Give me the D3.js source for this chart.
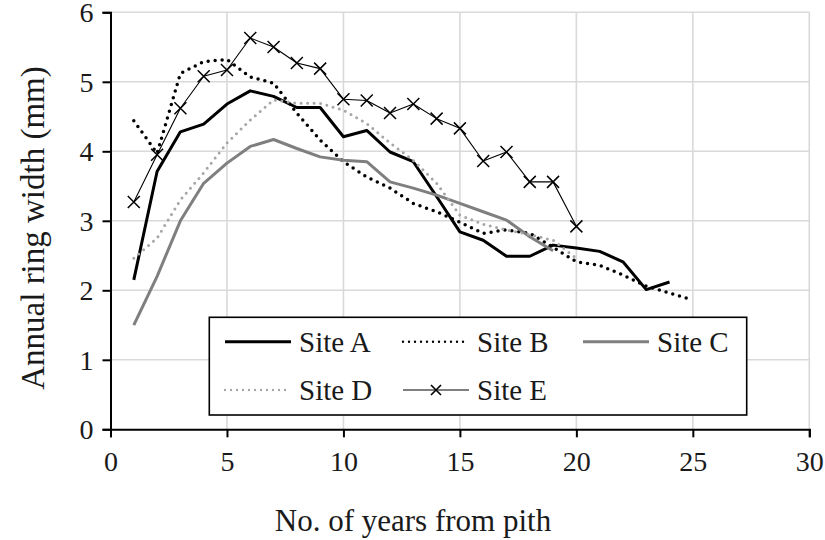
<!DOCTYPE html>
<html>
<head>
<meta charset="utf-8">
<script src="https://cdn.jsdelivr.net/npm/d3@7"></script>
<style>
  body { margin: 0; background: #fff; }
  svg text { font-family: "Liberation Serif", "DejaVu Serif", serif; fill: #1a1a1a; }
</style>
</head>
<body>
<svg id="chart" width="825" height="540"></svg>
<script>
// ring width (mm) by years from pith
const years = d3.range(1, 26);
const siteA = [2.15, 3.71, 4.28, 4.39, 4.68, 4.87, 4.79, 4.63, 4.63, 4.21, 4.30, 3.99, 3.85, 3.35, 2.84, 2.72, 2.49, 2.49, 2.65, 2.61, 2.56, 2.41, 2.01, 2.12];
const siteB = [4.44, 3.97, 5.12, 5.29, 5.32, 5.07, 4.98, 4.55, 4.16, 3.85, 3.63, 3.47, 3.25, 3.13, 2.98, 2.82, 2.87, 2.82, 2.62, 2.41, 2.36, 2.22, 2.06, 1.96, 1.86];
const siteC = [1.50, 2.20, 3.00, 3.54, 3.83, 4.07, 4.17, 4.04, 3.92, 3.87, 3.85, 3.56, 3.47, 3.37, 3.25, 3.13, 3.01, 2.77, 2.57];
const siteD = [2.46, 2.75, 3.30, 3.69, 4.12, 4.45, 4.74, 4.69, 4.69, 4.59, 4.40, 4.12, 3.87, 3.54, 3.08, 2.95, 2.87, 2.80, 2.72, 2.46];
const siteE = [3.27, 3.95, 4.62, 5.08, 5.17, 5.63, 5.50, 5.27, 5.19, 4.75, 4.73, 4.55, 4.68, 4.47, 4.33, 3.86, 3.99, 3.56, 3.56, 2.92];
const xTicks = [0, 5, 10, 15, 20, 25, 30];
const yTicks = [0, 1, 2, 3, 4, 5, 6];

const series = [
  {name: "Site A", values: siteA, color: "#000", width: 3, dash: null},
  {name: "Site B", values: siteB, color: "#000", width: 3.5, dash: "0 7"},
  {name: "Site C", values: siteC, color: "#7f7f7f", width: 3, dash: null},
  {name: "Site D", values: siteD, color: "#a6a6a6", width: 3, dash: "0 6.5"},
  {name: "Site E", values: siteE, color: "#000", width: 1.1, dash: null, marker: true}
];

const serif = "'Liberation Serif', 'DejaVu Serif', serif";
const svg = d3.select("#chart");
const x = d3.scaleLinear().domain([0, 30]).range([110.5, 809.3]);
const y = d3.scaleLinear().domain([0, 6]).range([429.3, 12.3]);

// gridlines
svg.append("g")
  .selectAll("line")
  .data(yTicks.slice(1))
  .join("line")
  .attr("x1", x(0)).attr("x2", x(30))
  .attr("y1", d => y(d)).attr("y2", d => y(d))
  .attr("stroke", "#d9d9d9").attr("stroke-width", 1.6);
svg.append("g")
  .selectAll("line")
  .data(xTicks.slice(1))
  .join("line")
  .attr("x1", d => x(d)).attr("x2", d => x(d))
  .attr("y1", y(0)).attr("y2", y(6))
  .attr("stroke", "#d9d9d9").attr("stroke-width", 1.6);

// axes
const xAxis = svg.append("g")
  .attr("transform", `translate(0,${y(0)})`)
  .call(d3.axisBottom(x).tickValues(xTicks).tickFormat(d3.format("d")).tickSize(8).tickPadding(14));
const yAxis = svg.append("g")
  .attr("transform", `translate(${x(0)},0)`)
  .call(d3.axisLeft(y).tickValues(yTicks).tickFormat(d3.format("d")).tickSize(8).tickPadding(9));
[xAxis, yAxis].forEach(g => {
  g.attr("font-family", serif).attr("font-size", 28);
  g.select(".domain").attr("stroke", "#000").attr("stroke-width", 2);
  g.selectAll(".tick line").attr("stroke", "#000").attr("stroke-width", 2);
  g.selectAll(".tick text").attr("fill", "#1a1a1a");
});
yAxis.selectAll(".tick text").attr("dy", "0.34em");

// lines
const line = d3.line().x((d, i) => x(years[i])).y(d => y(d));
series.forEach(s => {
  svg.append("path")
    .datum(s.values)
    .attr("d", line)
    .attr("fill", "none")
    .attr("stroke", s.color)
    .attr("stroke-width", s.width)
    .attr("stroke-linecap", s.dash ? "round" : "butt")
    .attr("stroke-linejoin", "round")
    .attr("stroke-dasharray", s.dash);
  if (s.marker) {
    svg.append("g")
      .selectAll("path")
      .data(s.values)
      .join("path")
      .attr("transform", (d, i) => `translate(${x(years[i])},${y(d)})`)
      .attr("d", "M-6,-6L6,6M-6,6L6,-6")
      .attr("stroke", "#000").attr("stroke-width", 1.5);
  }
});

// legend
const legend = svg.append("g");
legend.append("rect")
  .attr("x", 209.3).attr("y", 317.3).attr("width", 537.4).attr("height", 97.7)
  .attr("fill", "#fff").attr("stroke", "#000").attr("stroke-width", 1.6);
const slots = [
  {x: 225, y: 341.7}, {x: 403, y: 341.7}, {x: 583, y: 341.7},
  {x: 225, y: 390}, {x: 403, y: 390}
];
series.forEach((s, i) => {
  const p = slots[i];
  legend.append("line")
    .attr("x1", p.x).attr("x2", p.x + 66)
    .attr("y1", p.y).attr("y2", p.y)
    .attr("stroke", s.color)
    .attr("stroke-width", s.dash ? 2.4 : s.width)
    .attr("stroke-linecap", s.dash ? "round" : "butt")
    .attr("stroke-dasharray", s.dash ? "0 6" : null);
  if (s.marker) {
    legend.append("path")
      .attr("transform", `translate(${p.x + 33},${p.y})`)
      .attr("d", "M-5,-5L5,5M-5,5L5,-5")
      .attr("stroke", "#000").attr("stroke-width", 1.6);
  }
  legend.append("text")
    .attr("x", p.x + 74).attr("y", p.y)
    .attr("dy", "0.35em")
    .attr("font-size", 29)
    .text(s.name);
});

// axis titles
svg.append("text")
  .attr("x", 413).attr("y", 531)
  .attr("text-anchor", "middle")
  .attr("font-size", 31)
  .text("No. of years from pith");
svg.append("text")
  .attr("transform", "translate(44,228) rotate(-90)")
  .attr("text-anchor", "middle")
  .attr("font-size", 33)
  .text("Annual ring width (mm)");
</script>
</body>
</html>
